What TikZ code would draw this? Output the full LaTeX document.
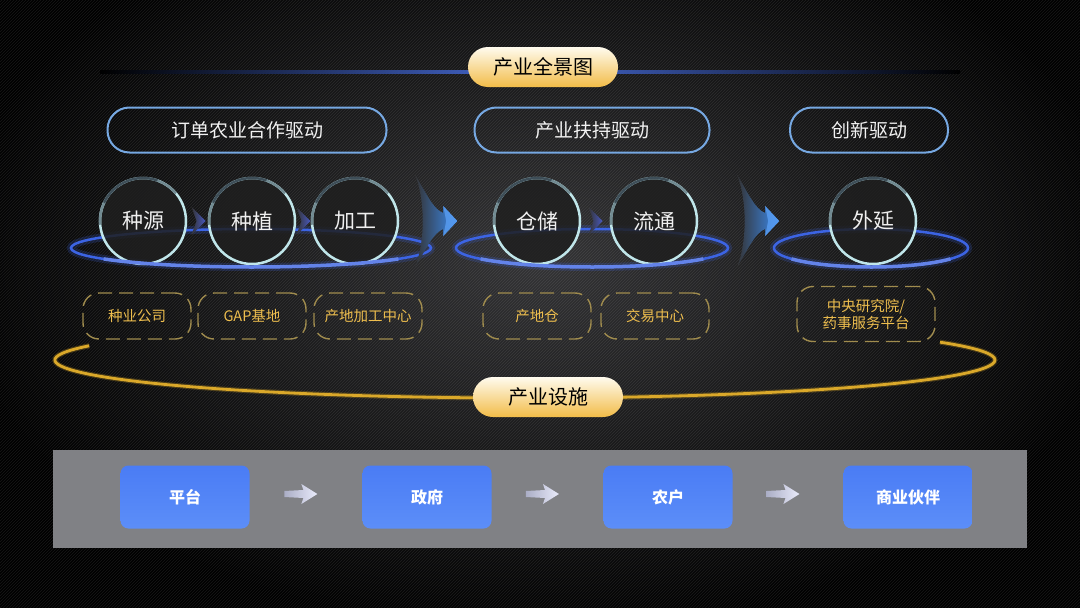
\documentclass[tikz,border=0pt]{standalone}
\usepackage{fontspec}
\newfontfamily\cjk{Noto Sans CJK SC}
\usetikzlibrary{shapes.geometric,positioning,calc,patterns}
\definecolor{bgmid}{RGB}{52,52,54}
\definecolor{pillcream}{RGB}{255,251,238}
\definecolor{pillgold}{RGB}{242,188,72}
\definecolor{lineblue}{RGB}{70,105,210}
\definecolor{ringblue}{RGB}{60,100,228}
\definecolor{driveblue}{RGB}{118,168,226}
\definecolor{circlelight}{RGB}{192,230,234}
\definecolor{circledark}{RGB}{62,78,88}
\definecolor{chevblue}{RGB}{60,140,240}
\definecolor{smallchev}{RGB}{72,88,190}
\definecolor{dashgold}{RGB}{160,140,78}
\definecolor{textgold}{RGB}{238,190,78}
\definecolor{arcgold}{RGB}{218,168,42}
\definecolor{bandgray}{RGB}{128,129,133}
\definecolor{boxtop}{RGB}{74,124,245}
\definecolor{boxbottom}{RGB}{92,142,248}
\definecolor{arrowlav}{RGB}{200,205,245}

\tikzset{
  titlepill/.style={
    rectangle, rounded corners=20pt,   % pill shape
    minimum width=150pt, minimum height=40pt,
    top color=pillcream, bottom color=pillgold,
    text=black, font=\cjk\fontsize{20}{24}\selectfont},
  drivebox/.style={
    draw=driveblue, line width=2pt, rectangle, rounded corners=22pt,
    minimum height=45pt, text=white!90!gray,
    font=\cjk\fontsize{19}{23}\selectfont},
  stagecircle/.style={
    circle, minimum size=86pt, inner sep=0pt,
    fill=black!88!white, fill opacity=0.85, text opacity=1,
    draw=circlelight, line width=2.5pt, text=white!88!gray,
    font=\cjk\fontsize{21}{25}\selectfont},
  sitebox/.style={
    draw=dashgold, line width=1.4pt, dash pattern=on 14pt off 7pt,
    rectangle, rounded corners=16pt,
    minimum width=108pt, minimum height=46pt, text=textgold,
    align=center, font=\cjk\fontsize{14.5}{17}\selectfont},
  partybox/.style={
    rectangle, rounded corners=8pt, top color=boxtop, bottom color=boxbottom,
    minimum width=129pt, minimum height=63pt, text=white,
    font=\cjk\bfseries\fontsize{16}{19}\selectfont},
  bigchev/.pic={
    \shade[left color=bgmid, right color=chevblue]
      (-42,-46) .. controls (-30,-26) and (-24,-12) .. (-14,-8)
      -- (-14,-15) -- (0,0) -- (-14,15) -- (-14,8)
      .. controls (-24,12) and (-30,26) .. (-42,46)
      .. controls (-32,20) and (-32,-20) .. (-42,-46) -- cycle;
    \fill[chevblue!85!white, opacity=0.8] (0,0) -- (-14,-15) -- (-11,0) -- (-14,15) -- cycle;
  },
  smallchev/.pic={
    \shade[left color=bgmid, right color=smallchev]
      (7,0) -- (-7,-14) -- (-2,0) -- (-7,14) -- cycle;
  },
  partyarrow/.pic={
    \shade[left color=arrowlav!60!gray, right color=arrowlav!40!white]
      (17,0) -- (1,-10) -- (3,-4) -- (-16,-3) -- (-16,3) -- (3,4) -- (1,10) -- cycle;
  }
}

\begin{document}
\begin{tikzpicture}[x=1pt, y=-1pt]
\useasboundingbox (0,0) rectangle (1080,608);

% background with carbon texture
\fill[black] (0,0) rectangle (1080,608);
\shade[inner color=bgmid, outer color=black] (-60,-120) rectangle (1140,640);
\fill[pattern=north east lines, pattern color=white, opacity=0.09] (0,0) rectangle (1080,608);

% top line and title
\shade[left color=black, right color=black, middle color=lineblue] (100,70.5) rectangle (960,73.5);
\node[titlepill] (panorama) at (543,67) {产业全景图};

% drivers
\node[drivebox, minimum width=279pt] (orderdrive) at (247,130) {订单农业合作驱动};
\node[drivebox, minimum width=235pt] (supportdrive) at (592,130) {产业扶持驱动};
\node[drivebox, minimum width=158pt] (innovdrive) at (869,130) {创新驱动};

% rings behind the stages
\foreach \cx/\rx in {251/180, 592/136, 871/97} {
  \draw[ringblue, line width=8pt, opacity=0.2] (\cx,248) ellipse[x radius=\rx, y radius=19];
  \draw[ringblue, line width=2.5pt] (\cx,248) ellipse[x radius=\rx, y radius=19];
}

% stages
\node[stagecircle] (zhongyuan) at (143,221) {种源};
\node[stagecircle] (zhongzhi) at (252,221) {种植};
\node[stagecircle] (jiagong) at (355,221) {加工};
\node[stagecircle] (cangchu) at (537,221) {仓储};
\node[stagecircle] (liutong) at (654,221) {流通};
\node[stagecircle] (waiyan) at (873,221) {外延};

\foreach \n in {zhongyuan, zhongzhi, jiagong, cangchu, liutong, waiyan} {
  \draw[circledark!60!circlelight, line width=2.5pt] (\n.center) ++(175:43) arc[start angle=175, end angle=205, radius=43];
  \draw[circledark, line width=2.5pt] (\n.center) ++(205:43) arc[start angle=205, end angle=290, radius=43];
  \draw[circledark!60!circlelight, line width=2.5pt] (\n.center) ++(290:43) arc[start angle=290, end angle=320, radius=43];
}

% front of the rings
\foreach \cx/\rx in {251/180, 592/136, 871/97} {
  \draw[ringblue!80!white, line width=3.5pt] (\cx,248) ++(35:{\rx} and {19}) arc[start angle=35, end angle=145, x radius=\rx, y radius=19];
}

% flow chevrons
\pic at ($(zhongyuan.east)!0.55!(zhongzhi.west)$) {smallchev};
\pic at ($(zhongzhi.east)!0.5!(jiagong.west)$) {smallchev};
\pic at ($(cangchu.east)!0.5!(liutong.west)$) {smallchev};
\pic at ($(jiagong.east)!0.62!(cangchu.west)$) {bigchev};
\pic at ($(liutong.east)!0.62!(waiyan.west)$) {bigchev};

% facilities arc
\draw[arcgold!70!black, line width=5pt, opacity=0.4] (525,360) ++(202:470 and 38) arc[start angle=202, end angle=-28, x radius=470, y radius=38];
\draw[arcgold, line width=2.8pt] (525,360) ++(202:470 and 38) arc[start angle=202, end angle=-28, x radius=470, y radius=38];

% sites
\node[sitebox] (seedco) at (137,316) {种业公司};
\node[sitebox] (gapbase) at (252,316) {GAP基地};
\node[sitebox] (proccenter) at (368,316) {产地加工中心};
\node[sitebox] (origindepot) at (537,316) {产地仓};
\node[sitebox] (tradecenter) at (655,316) {交易中心};
\node[sitebox, minimum width=138pt, minimum height=55pt] (research) at (866,314) {中央研究院/\\药事服务平台};

\node[titlepill] (facilities) at (548,397) {产业设施};

% parties band
\fill[bandgray] (53,450) rectangle (1027,548);
\node[partybox] (platform) at (185,497) {平台};
\node[partybox] (government) at (427,497) {政府};
\node[partybox] (farmer) at (668,497) {农户};
\node[partybox] (partner) at (908,497) {商业伙伴};

\pic at ($(platform.east)!0.45!(government.west)+(0,-3)$) {partyarrow};
\pic at ($(government.east)!0.45!(farmer.west)+(0,-3)$) {partyarrow};
\pic at ($(farmer.east)!0.45!(partner.west)+(0,-3)$) {partyarrow};
\end{tikzpicture}
\end{document}
